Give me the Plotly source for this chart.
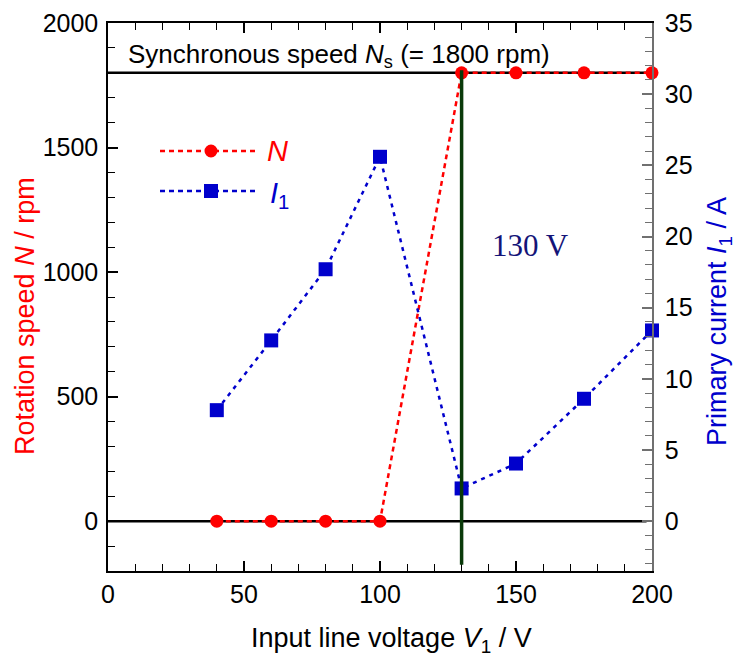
import plotly.graph_objects as go

voltage = [40, 60, 80, 100, 130, 150, 175, 200]
speed_rpm = [0, 0, 0, 0, 1800, 1800, 1800, 1800]
current_a = [7.8, 12.7, 17.7, 25.6, 2.3, 4.05, 8.6, 13.4]
sync_speed = 1800
critical_v = 130

RED = "#ff0000"
BLUE = "#0000cc"
FONT = "Liberation Sans, Arial, sans-serif"

fig = go.Figure()
fig.add_trace(go.Scatter(
    x=voltage, y=speed_rpm, mode="lines+markers", name="N",
    line=dict(color=RED, width=2.5, dash="5px,4px"),
    marker=dict(symbol="circle", size=13, color=RED),
    yaxis="y", showlegend=False, cliponaxis=False))
fig.add_trace(go.Scatter(
    x=voltage, y=current_a, mode="lines+markers", name="I1",
    line=dict(color=BLUE, width=2.5, dash="4px,5px"),
    marker=dict(symbol="square", size=14, color=BLUE),
    yaxis="y2", showlegend=False, cliponaxis=False))

# reference lines
fig.add_shape(type="line", xref="x", yref="y", x0=0, x1=198, y0=0, y1=0,
              line=dict(color="black", width=2.5), layer="below")
fig.add_shape(type="line", xref="x", yref="y", x0=0, x1=200, y0=sync_speed, y1=sync_speed,
              line=dict(color="black", width=2.5), layer="below")
fig.add_shape(type="line", xref="x", yref="y", x0=critical_v, x1=critical_v, y0=sync_speed + 10, y1=-175,
              line=dict(color="#0a3a0a", width=3.5))

# legend samples (paper coords)
def px2paper_x(px):
    return (px - 108) / 544.0

def px2paper_y(py):
    return (571 - py) / 548.0

for py, col, sym in [(151, RED, "circle"), (191, BLUE, "square")]:
    fig.add_shape(type="line", xref="paper", yref="paper",
                  x0=px2paper_x(160), x1=px2paper_x(259), y0=px2paper_y(py), y1=px2paper_y(py),
                  line=dict(color=col, width=2.5, dash="5px,4px"))
    if sym == "circle":
        fig.add_shape(type="circle", xref="paper", yref="paper", xsizemode="pixel", ysizemode="pixel",
                      xanchor=px2paper_x(211), yanchor=px2paper_y(py), x0=-6.5, x1=6.5, y0=-6.5, y1=6.5,
                      fillcolor=col, line=dict(width=0))
    else:
        fig.add_shape(type="rect", xref="paper", yref="paper", xsizemode="pixel", ysizemode="pixel",
                      xanchor=px2paper_x(211), yanchor=px2paper_y(py), x0=-7, x1=7, y0=-7, y1=7,
                      fillcolor=col, line=dict(width=0))

annotations = [
    dict(text="<i>N</i>", x=px2paper_x(265), y=px2paper_y(151), xref="paper", yref="paper",
         xanchor="left", yanchor="middle", showarrow=False, font=dict(color=RED, size=29, family=FONT)),
    dict(text="<i>I</i><sub>1</sub>", x=px2paper_x(268), y=px2paper_y(195), xref="paper", yref="paper",
         xanchor="left", yanchor="middle", showarrow=False, font=dict(color=BLUE, size=29, family=FONT)),
    dict(text="Synchronous speed <i>N</i><sub>s</sub> (= 1800 rpm)", x=px2paper_x(126), y=px2paper_y(55),
         xref="paper", yref="paper", xanchor="left", yanchor="middle", showarrow=False,
         font=dict(color="black", size=26, family=FONT)),
    dict(text="130 V", x=px2paper_x(530), y=px2paper_y(245), xref="paper", yref="paper",
         xanchor="center", yanchor="middle", showarrow=False,
         font=dict(color="#141478", size=31, family="Liberation Serif, Times New Roman, serif")),
    dict(text="Rotation speed <i>N</i> / rpm", x=px2paper_x(25), y=px2paper_y(316), xref="paper", yref="paper",
         xanchor="center", yanchor="middle", textangle=-90, showarrow=False,
         font=dict(color=RED, size=27, family=FONT)),
    dict(text="Primary current <i>I</i><sub>1</sub> / A", x=px2paper_x(719), y=px2paper_y(322), xref="paper", yref="paper",
         xanchor="center", yanchor="middle", textangle=-90, showarrow=False,
         font=dict(color=BLUE, size=27, family=FONT)),
    dict(text="Input line voltage <i>V</i><sub>1</sub> / V", x=px2paper_x(391), y=px2paper_y(640), xref="paper", yref="paper",
         xanchor="center", yanchor="middle", showarrow=False,
         font=dict(color="black", size=27, family=FONT)),
]

fig.update_layout(
    width=745, height=662,
    margin=dict(l=108, r=93, t=23, b=91, autoexpand=False),
    paper_bgcolor="white", plot_bgcolor="white",
    font=dict(family=FONT, size=25, color="black"),
    annotations=annotations,
    xaxis=dict(range=[0, 200], dtick=50, tick0=0, ticks="inside", ticklen=10, tickwidth=1.5,
               tickcolor="black", showline=True, linecolor="black", linewidth=1.5, mirror="ticks",
               showgrid=False, zeroline=False, tickfont=dict(size=25), automargin=False,
               minor=dict(dtick=10, ticks="inside", ticklen=7, tickcolor="black", tickwidth=1.2)),
    yaxis=dict(range=[-200, 2000], dtick=500, tick0=0, ticks="inside", ticklen=10, tickwidth=1.5,
               tickcolor="black", showline=True, linecolor="black", linewidth=1.5, automargin=False,
               showgrid=False, zeroline=False, tickfont=dict(size=25), ticklabelstandoff=3,
               minor=dict(dtick=100, ticks="inside", ticklen=7, tickcolor="black", tickwidth=1.2)),
    yaxis2=dict(range=[-3.5, 35], dtick=5, tick0=0, ticks="inside", ticklen=10, tickwidth=1.5,
                tickcolor="#707070", showline=True, linecolor="#707070", linewidth=1.5, automargin=False,
                overlaying="y", side="right", showgrid=False, zeroline=False, tickfont=dict(size=25),
                ticklabelstandoff=6,
                minor=dict(dtick=1, ticks="inside", ticklen=7, tickcolor="#707070", tickwidth=1.2)),
)

fig.write_html("out.html")
